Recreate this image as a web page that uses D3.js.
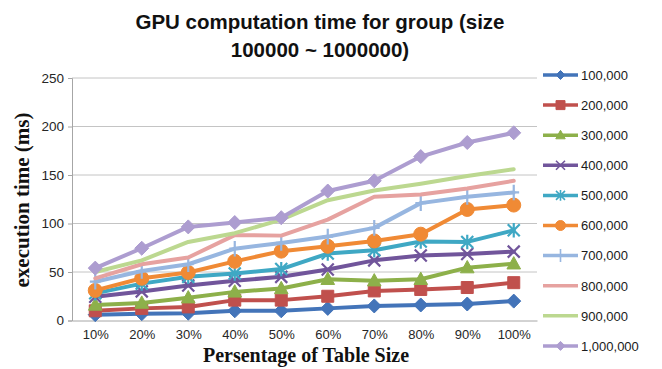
<!DOCTYPE html>
<html><head><meta charset="utf-8">
<script src="https://cdn.jsdelivr.net/npm/d3@7"></script>
<style>body{margin:0;background:#fff;} svg{display:block;}</style>
</head><body><svg id="c" width="662" height="369"></svg>
<script>
const categories = ["10%","20%","30%","40%","50%","60%","70%","80%","90%","100%"];
const seriesNames = ["100,000","200,000","300,000","400,000","500,000","600,000","700,000","800,000","900,000","1,000,000"];
const s100k = [6, 7, 7.5, 10, 10, 12.5, 15, 16, 17, 20];
const s200k = [10, 12.5, 14, 21, 21, 25, 30.5, 32, 34, 39];
const s300k = [16, 18, 23.5, 29.5, 33, 42.5, 41, 42.5, 54.5, 58.5];
const s400k = [24.5, 30, 36, 41, 45, 52.5, 62, 67, 68.5, 71];
const s500k = [28, 38, 45, 48.5, 53, 69, 72.5, 81.5, 81, 93];
const s600k = [31, 43.5, 49.5, 61, 71.5, 76.5, 82, 89, 114.5, 119];
const s700k = [40, 51, 58, 74, 80, 86.5, 95.5, 121, 127.5, 132];
const s800k = [43.5, 58, 65, 88, 87.5, 104, 127.5, 130, 136, 144];
const s900k = [50, 62, 81, 90, 104, 124, 134, 141, 149, 156];
const s1m = [54, 74.5, 96.5, 101, 106, 133.5, 144, 169, 183.5, 193.5];
const yTicks = [0, 50, 100, 150, 200, 250];
const titleLines = ["GPU computation time for group (size", "100000 ~ 1000000)"];
const xTitle = "Persentage of Table Size";
const yTitle = "execution time (ms)";

const seriesValues = [s100k, s200k, s300k, s400k, s500k, s600k, s700k, s800k, s900k, s1m];
const colors = ["#4374b9","#c0504d","#8db04a","#71559b","#3fa8c4","#f08a35","#97b6e0","#e6a2a0","#bcd890","#ad9dd0"];
const markers = ["diamond","square","triangle","x","asterisk","circle","plus","none","none","diamond"];

const svg = d3.select("#c");
const x = d3.scalePoint().domain(categories).range([72, 537]).padding(0.5);
const y = d3.scaleLinear().domain([0, 250]).range([320.5, 78]);

// gridlines
svg.append("g").selectAll("line").data(yTicks.filter(d => d > 0)).join("line")
  .attr("x1", 72).attr("x2", 537)
  .attr("y1", d => y(d)).attr("y2", d => y(d))
  .attr("stroke", "#c4c4c4").attr("stroke-width", 1);

// y axis
const yAxis = svg.append("g").attr("transform", "translate(72,0)")
  .call(d3.axisLeft(y).tickValues(yTicks).tickSize(4).tickPadding(4));
yAxis.select(".domain").attr("stroke", "#a6a6a6");
yAxis.selectAll(".tick line").attr("stroke", "#a6a6a6");
yAxis.selectAll("text").attr("font-family", "Liberation Sans, Arial, sans-serif")
  .attr("font-size", 13.5).attr("fill", "#262626");

// x axis
const xAxis = svg.append("g").attr("transform", "translate(0,320.5)")
  .call(d3.axisBottom(x).tickSize(0).tickPadding(9));
xAxis.select(".domain").attr("stroke", "#a6a6a6");
xAxis.selectAll("text").attr("font-family", "Liberation Sans, Arial, sans-serif")
  .attr("font-size", 13).attr("fill", "#262626");

function markerPath(type, s) {
  switch (type) {
    case "diamond": return `M0,${-s}L${s},0L0,${s}L${-s},0Z`;
    case "square": return `M${-s},${-s}H${s}V${s}H${-s}Z`;
    case "triangle": return `M0,${-s*1.1}L${s*1.05},${s*0.8}L${-s*1.05},${s*0.8}Z`;
    case "x": return `M${-s},${-s}L${s},${s}M${-s},${s}L${s},${-s}`;
    case "asterisk": return `M${-s},${-s}L${s},${s}M${-s},${s}L${s},${-s}M0,${-s*1.2}V${s*1.2}`;
    case "plus": return `M0,${-s*1.3}V${s*1.3}M${-s*0.9},0H${s*0.9}`;
    case "circle": return d3.symbol(d3.symbolCircle, Math.PI * s * s)();
    default: return "";
  }
}
const filled = t => ["diamond","square","triangle","circle"].includes(t);
const markerSize = {diamond: 7, square: 6, triangle: 6.5, x: 6, asterisk: 6, plus: 6, circle: 7};
const legendMarkerSize = {diamond: 4.5, square: 4.5, triangle: 4.5, x: 4.5, asterisk: 4.5, plus: 5, circle: 5};

const line = d3.line().x((d, i) => x(categories[i])).y(d => y(d));

seriesValues.forEach((vals, si) => {
  const g = svg.append("g");
  g.append("path").datum(vals).attr("d", line)
    .attr("fill", "none").attr("stroke", colors[si]).attr("stroke-width", 4)
    .attr("stroke-linejoin", "round").attr("stroke-linecap", "round");
  const mt = markers[si];
  if (mt !== "none") {
    g.selectAll(".m").data(vals).join("path")
      .attr("transform", (d, i) => `translate(${x(categories[i])},${y(d)})`)
      .attr("d", markerPath(mt, markerSize[mt]))
      .attr("fill", filled(mt) ? colors[si] : "none")
      .attr("stroke", colors[si])
      .attr("stroke-width", filled(mt) ? 1 : 2.2);
  }
});

// legend
const leg = svg.append("g");
seriesNames.forEach((name, i) => {
  const ly = 75 + i * 30.1;
  const g = leg.append("g").attr("transform", `translate(0,${ly})`);
  g.append("line").attr("x1", 543).attr("x2", 578).attr("y1", 0).attr("y2", 0)
    .attr("stroke", colors[i]).attr("stroke-width", 3.5);
  const mt = markers[i];
  if (mt !== "none") {
    g.append("path").attr("transform", "translate(560.5,0)")
      .attr("d", markerPath(mt, legendMarkerSize[mt]))
      .attr("fill", filled(mt) ? colors[i] : "none")
      .attr("stroke", colors[i]).attr("stroke-width", filled(mt) ? 1 : 1.6);
  }
  g.append("text").attr("x", 581).attr("y", 4.8).text(name)
    .attr("font-family", "Liberation Sans, Arial, sans-serif")
    .attr("font-size", 13).attr("fill", "#1a1a1a");
});

// title
svg.append("g").selectAll("text").data(titleLines).join("text")
  .attr("x", 320).attr("y", (d, i) => 29 + i * 28)
  .attr("text-anchor", "middle")
  .attr("font-family", "Liberation Sans, Arial, sans-serif")
  .attr("font-weight", "bold").attr("font-size", 20.5).attr("fill", "#111")
  .text(d => d);

// axis titles
svg.append("text").attr("x", 306).attr("y", 362).attr("text-anchor", "middle")
  .attr("font-family", "Liberation Serif, Times New Roman, serif")
  .attr("font-weight", "bold").attr("font-size", 20).attr("fill", "#111")
  .text(xTitle);
svg.append("text").attr("transform", "translate(29,200) rotate(-90)")
  .attr("text-anchor", "middle")
  .attr("font-family", "Liberation Serif, Times New Roman, serif")
  .attr("font-weight", "bold").attr("font-size", 21).attr("fill", "#111")
  .text(yTitle);
</script>
</body></html>
